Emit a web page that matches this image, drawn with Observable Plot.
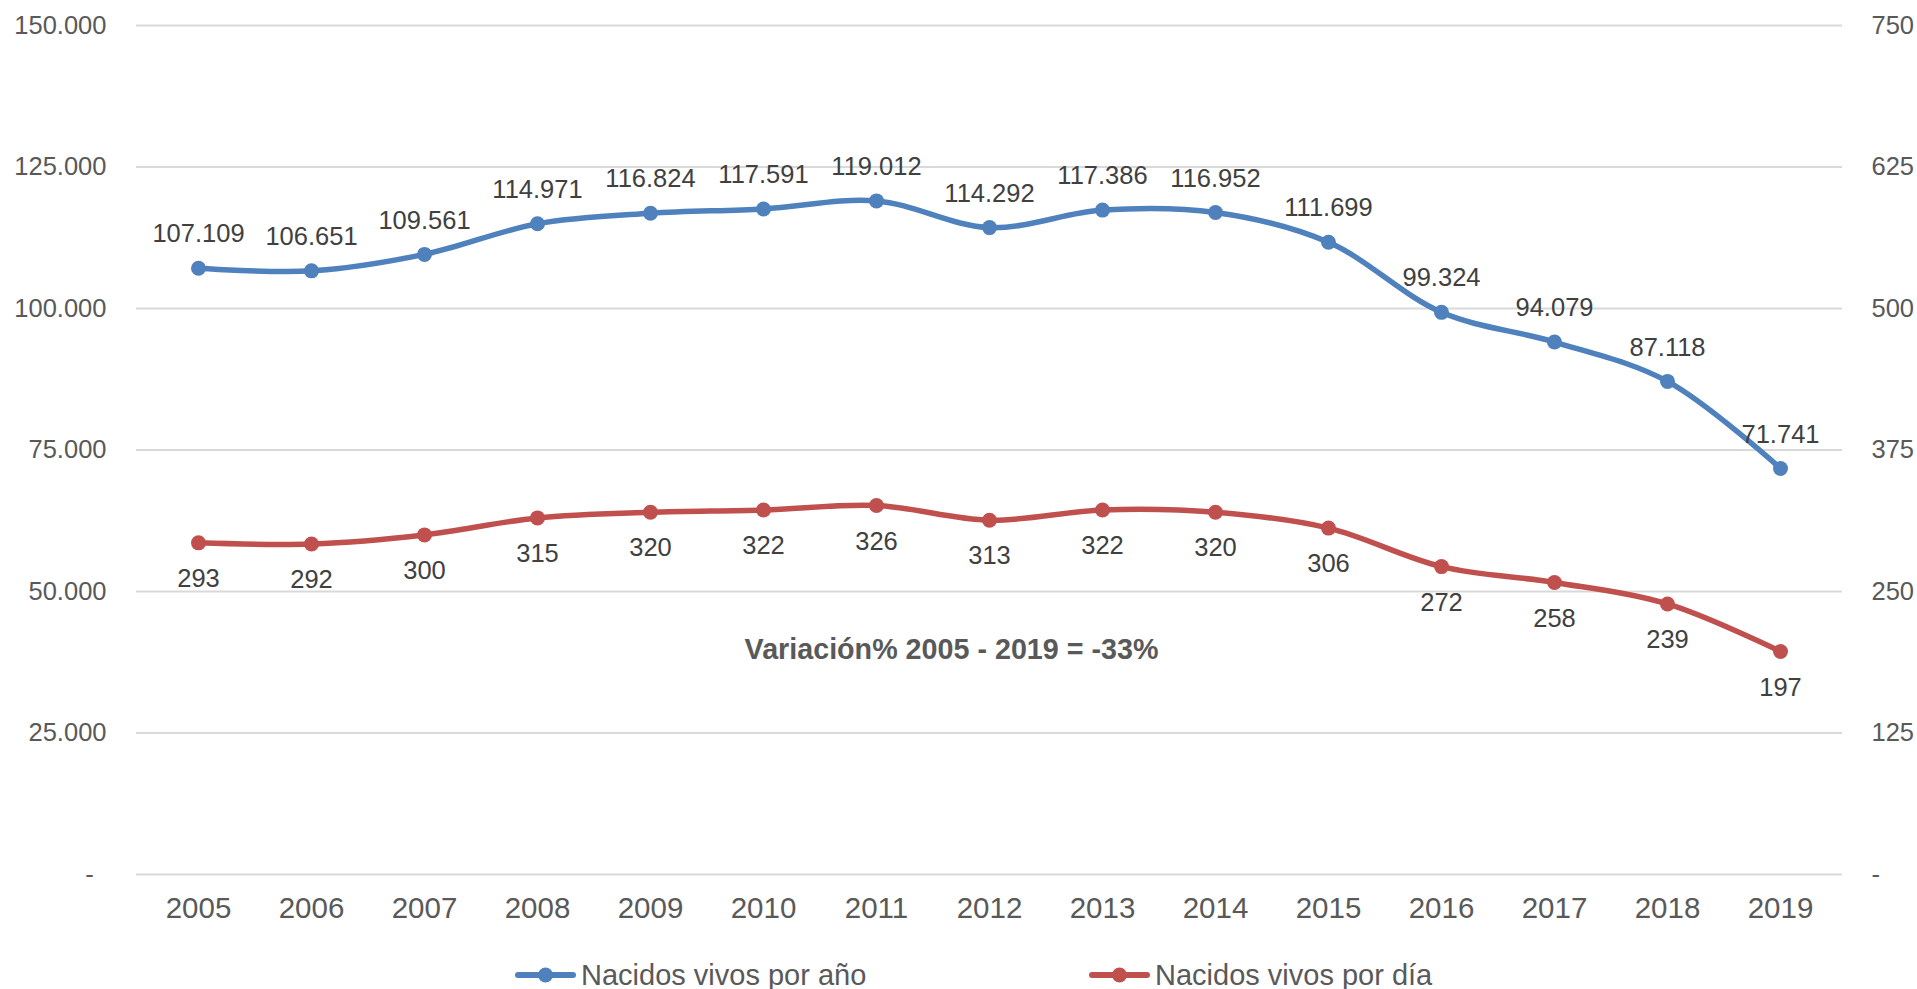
<!DOCTYPE html>
<html><head><meta charset="utf-8">
<script src="https://cdn.jsdelivr.net/npm/d3@7"></script>
<script src="https://cdn.jsdelivr.net/npm/@observablehq/plot@0.6"></script>
<style>
body{margin:0;background:#fff;font-family:"Liberation Sans",Arial,sans-serif;}
#chart{position:relative;width:1917px;height:989px;overflow:hidden;}
#chart svg{display:block;}
.legend{position:absolute;top:960px;left:0;width:1917px;height:30px;}
.item{position:absolute;top:0;height:30px;display:flex;align-items:center;font-size:29px;color:#595959;white-space:nowrap;}
.item svg{margin-right:5px;}
</style></head><body><div id="chart"></div>
<script>
const years = ["2005","2006","2007","2008","2009","2010","2011","2012","2013","2014","2015","2016","2017","2018","2019"];
const perYear = [107109,106651,109561,114971,116824,117591,119012,114292,117386,116952,111699,99324,94079,87118,71741];
const perDay = [293,292,300,315,320,322,326,313,322,320,306,272,258,239,197];
const leftTicks = [0,25000,50000,75000,100000,125000,150000];
const rightTicks = [0,125,250,375,500,625,750];
const seriesNames = ["Nacidos vivos por año","Nacidos vivos por día"];
const colors = ["#4F81BD","#C0504D"];
const annotation = "Variación% 2005 - 2019 = -33%";

const ratio = leftTicks[leftTicks.length-1] / rightTicks[rightTicks.length-1];
const fmt = d3.formatLocale({decimal:",", thousands:".", grouping:[3], currency:["",""]}).format(",d");
const rows = years.map((y,i)=>({year:y, a:perYear[i], d:perDay[i]}));

const plot = Plot.plot({
  width:1917, height:940,
  marginLeft:136, marginRight:75, marginTop:25, marginBottom:66,
  style:{fontFamily:"'Liberation Sans', Arial, sans-serif", color:"#595959", background:"#fff", overflow:"visible"},
  x:{type:"point", domain:years, padding:0.5},
  y:{domain:[leftTicks[0], leftTicks[leftTicks.length-1]]},
  marks:[
    Plot.gridY(leftTicks,{stroke:"#d9d9d9", strokeOpacity:1, strokeWidth:2}),
    Plot.axisY(leftTicks,{anchor:"left", label:null, tickSize:0, tickPadding:30, fontSize:25.5,
      tickFormat:d=> d===0 ? "-\u2002" : fmt(d)}),
    Plot.axisY(rightTicks.map(t=>t*ratio),{anchor:"right", label:null, tickSize:0, tickPadding:29, fontSize:25.5, textAnchor:"start",
      tickFormat:d=> d===0 ? "-" : fmt(d/ratio)}),
    Plot.axisX({label:null, tickSize:0, tickPadding:23, fontSize:29.5}),
    Plot.line(rows,{x:"year", y:"a", stroke:colors[0], strokeWidth:5.5, curve:"catmull-rom"}),
    Plot.line(rows,{x:"year", y:d=>d.d*ratio, stroke:colors[1], strokeWidth:5.5, curve:"catmull-rom"}),
    Plot.dot(rows,{x:"year", y:"a", r:7.5, fill:colors[0]}),
    Plot.dot(rows,{x:"year", y:d=>d.d*ratio, r:7.5, fill:colors[1]}),
    Plot.text(rows,{x:"year", y:"a", text:d=>fmt(d.a), dy:-34, fontSize:25.5, fill:"#404040"}),
    Plot.text(rows,{x:"year", y:d=>d.d*ratio, text:d=>String(d.d), dy:36, fontSize:25.5, fill:"#404040"}),
    Plot.text([annotation],{frameAnchor:"middle", text:d=>d, dx:-38, dy:200, fontSize:28.7, fontWeight:"bold", fill:"#595959"})
  ]
});
const chart = document.getElementById("chart");
chart.appendChild(plot);

const legend = d3.select(chart).append("div").attr("class","legend");
const lefts = [515, 1089];
seriesNames.forEach((name,i)=>{
  const item = legend.append("div").attr("class","item").style("left", lefts[i]+"px");
  const s = item.append("svg").attr("width",61).attr("height",30);
  s.append("line").attr("x1",3).attr("x2",58).attr("y1",15).attr("y2",15)
    .attr("stroke",colors[i]).attr("stroke-width",6).attr("stroke-linecap","round");
  s.append("circle").attr("cx",30.5).attr("cy",15).attr("r",7.5).attr("fill",colors[i]);
  item.append("span").text(name);
});
</script></body></html>
